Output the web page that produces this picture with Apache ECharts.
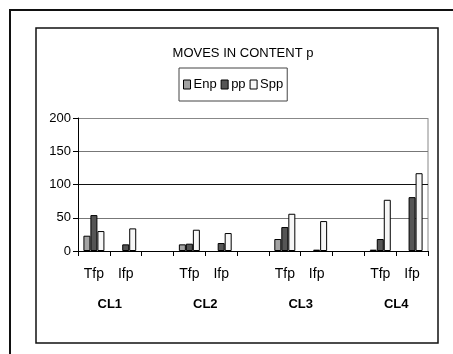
<!DOCTYPE html>
<html><head><meta charset="utf-8">
<script src="https://cdn.jsdelivr.net/npm/echarts@6/dist/echarts.min.js"></script>
<style>html,body{margin:0;padding:0;background:#fff}#c{width:453px;height:354px}</style>
</head><body><div id="c"></div>
<script>
const categories = ['Tfp','Ifp','','Tfp','Ifp','','Tfp','Ifp','','Tfp','Ifp'];
const groupLabels = ['CL1','CL2','CL3','CL4'];
const groupLabelPos = [1,4,7,10];
const seriesNames = ['Enp','pp','Spp'];
const enp = [23, null, null, 10, null, null, 18, null, null, 2, null];
const pp  = [54, 10, null, 11, 12, null, 36, 2, null, 18, 81];
const spp = [30, 34, null, 32, 27, null, 56, 45, null, 77, 117];
const yTicks = [0,50,100,150,200];

const FONT = '"Liberation Sans",Arial,sans-serif';
const colors = ['#a3a3a3','#555555','#f7f7f7'];
const chart = echarts.init(document.getElementById('c'));
const data = [enp, pp, spp];
chart.setOption({
  animation: false,
  title: {text: 'MOVES IN CONTENT p', left: 238, top: 42, textAlign: 'center',
    textStyle: {fontFamily: FONT, fontSize: 13, fontWeight: 'normal', color: '#000'}},
  legend: {
    data: seriesNames, left: 179, top: 68, orient: 'horizontal',
    padding: [10, 4, 10, 4], borderColor: '#444', borderWidth: 1,
    itemWidth: 7, itemHeight: 9, itemGap: 4, icon: 'rect',
    textStyle: {fontFamily: FONT, fontSize: 13, color: '#000', padding: [0,0,0,-2]},
    itemStyle: {borderColor: '#000', borderWidth: 1}
  },
  graphic: [
    {type: 'rect', shape: {x: 10, y: 10, width: 470, height: 380}, style: {fill: 'none', stroke: '#111', lineWidth: 2}, silent: true},
    {type: 'rect', shape: {x: 36, y: 28, width: 402, height: 315}, style: {fill: 'none', stroke: '#111', lineWidth: 1.5}, silent: true},
    {type: 'line', shape: {x1: 428, y1: 118, x2: 428, y2: 251}, style: {stroke: '#888', lineWidth: 1}, silent: true}
  ],
  grid: {left: 78, right: 25, top: 118, bottom: 103, containLabel: false},
  xAxis: [{
    type: 'category', data: categories,
    axisLine: {lineStyle: {color: '#000', width: 1}},
    axisTick: {show: true, length: 5, lineStyle: {color: '#000'}},
    axisLabel: {interval: 0, margin: 16, fontFamily: FONT, fontSize: 14, color: '#000'}
  }, {
    type: 'value', min: 0, max: 11, position: 'bottom', show: true,
    axisLine: {show: false}, axisTick: {show: false}, splitLine: {show: false},
    axisLabel: {customValues: groupLabelPos, margin: 47, fontFamily: FONT, fontSize: 13, fontWeight: 'bold', color: '#000',
      formatter: v => groupLabels[groupLabelPos.indexOf(v)] || ''}
  }],
  yAxis: {
    type: 'value', min: 0, max: 200, interval: 50,
    axisLine: {show: true, lineStyle: {color: '#000'}},
    axisTick: {show: true, length: 5, lineStyle: {color: '#000'}},
    axisLabel: {margin: 7, fontFamily: FONT, fontSize: 13, color: '#000',
      formatter: v => yTicks.includes(v) ? String(v) : ''},
    splitLine: {show: true, lineStyle: {color: ['#000','#777','#111','#777','#888'], width: 1}}
  },
  series: seriesNames.map((n, i) => ({
    name: n, type: 'bar', data: data[i], xAxisIndex: 0,
    barWidth: 7, barGap: '0%',
    itemStyle: {color: colors[i], borderColor: '#000', borderWidth: 1}
  }))
});
</script></body></html>
